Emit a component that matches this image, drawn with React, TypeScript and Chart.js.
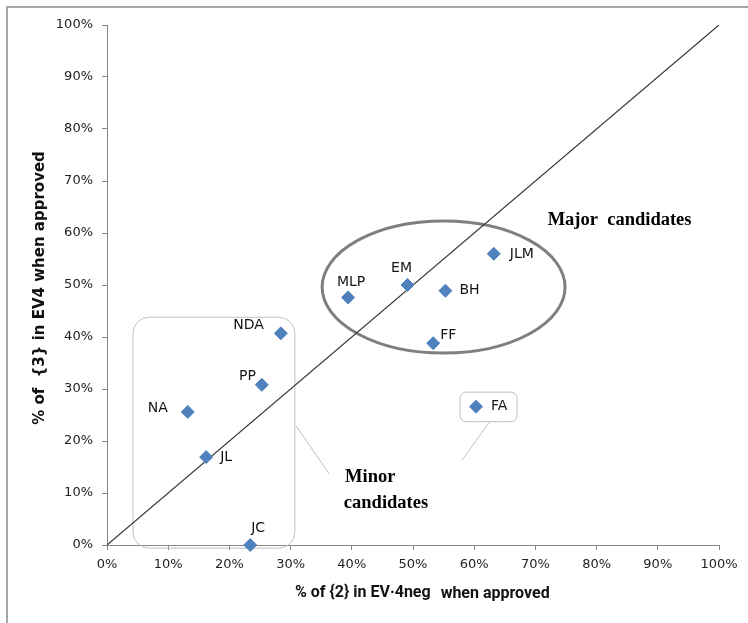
import React, { useEffect, useRef } from 'react';
import { Chart, registerables } from 'chart.js';

Chart.register(...registerables);

// ---- data ----
const candidates = ['JLM', 'EM', 'MLP', 'BH', 'FF', 'NDA', 'PP', 'NA', 'JL', 'JC', 'FA'];
const pctEv4neg = [63.2, 49.1, 39.4, 55.3, 53.3, 28.4, 25.3, 13.2, 16.2, 23.4, 60.3];
const pctEv4 = [56.0, 50.0, 47.6, 48.9, 38.8, 40.7, 30.8, 25.6, 16.9, 0.0, 26.6];
const diagonalX = [0, 100];
const diagonalY = [0, 100];
const tickValues = [0, 10, 20, 30, 40, 50, 60, 70, 80, 90, 100];
const tickLabels = ['0%', '10%', '20%', '30%', '40%', '50%', '60%', '70%', '80%', '90%', '100%'];

const xTitleA = '% of {2} in EV\u00B74neg';
const xTitleB = 'when approved';
const yTitle = '% of  {3} in EV4 when approved';
const majorText = ['Major  candidates'];
const minorText = ['Minor', 'candidates'];

// ---- label placement (pixel offsets from the point) ----
const labelOffsets: Record<string, [number, number, CanvasTextAlign]> = {
  JLM: [16, 1, 'left'],
  EM: [-6, -17, 'center'],
  MLP: [3, -15, 'center'],
  BH: [14, 0, 'left'],
  FF: [7, -8, 'left'],
  NDA: [-17, -8, 'right'],
  PP: [-6, -8, 'right'],
  NA: [-20, -4, 'right'],
  JL: [14, 0, 'left'],
  JC: [1, -17, 'left'],
  FA: [15, 0, 'left'],
};

function roundRect(ctx: CanvasRenderingContext2D, x0: number, y0: number, x1: number, y1: number, r: number) {
  const l = Math.min(x0, x1), rr = Math.max(x0, x1), t = Math.min(y0, y1), b = Math.max(y0, y1);
  ctx.beginPath();
  ctx.moveTo(l + r, t);
  ctx.lineTo(rr - r, t);
  ctx.arcTo(rr, t, rr, t + r, r);
  ctx.lineTo(rr, b - r);
  ctx.arcTo(rr, b, rr - r, b, r);
  ctx.lineTo(l + r, b);
  ctx.arcTo(l, b, l, b - r, r);
  ctx.lineTo(l, t + r);
  ctx.arcTo(l, t, l + r, t, r);
  ctx.closePath();
}

const annotationPlugin = {
  id: 'annotations',
  beforeDatasetsDraw(chart: any) {
    const { ctx, scales } = chart;
    const xs = scales.x, ys = scales.y;
    const px = (v: number) => xs.getPixelForValue(v);
    const py = (v: number) => ys.getPixelForValue(v);
    ctx.save();
    // Major ellipse
    const cx = 55, cy = 49.6, rx = 19.85, ry = 12.7;
    ctx.beginPath();
    ctx.ellipse(px(cx), py(cy), px(cx + rx) - px(cx), py(cy) - py(cy + ry), 0, 0, Math.PI * 2);
    ctx.strokeStyle = '#7F7F7F';
    ctx.lineWidth = 3;
    ctx.stroke();
    // Minor rounded box
    ctx.strokeStyle = '#BFBFBF';
    ctx.lineWidth = 1;
    roundRect(ctx, px(4.25), py(43.8), px(30.7), py(-0.6), 16);
    ctx.stroke();
    ctx.beginPath();
    ctx.moveTo(px(30.9), py(22.9));
    ctx.lineTo(px(36.3), py(13.7));
    ctx.stroke();
    // FA box
    roundRect(ctx, px(57.7), py(29.4), px(67), py(23.7), 6);
    ctx.stroke();
    ctx.beginPath();
    ctx.moveTo(px(62.4), py(23.5));
    ctx.lineTo(px(58), py(16.3));
    ctx.stroke();
    ctx.restore();
  },
  afterDraw(chart: any) {
    const { ctx, scales, chartArea } = chart;
    const xs = scales.x, ys = scales.y;
    const px = (v: number) => xs.getPixelForValue(v);
    const py = (v: number) => ys.getPixelForValue(v);
    ctx.save();
    // outer frame (left and top visible)
    ctx.strokeStyle = '#A6A6A6';
    ctx.lineWidth = 2;
    ctx.beginPath();
    ctx.moveTo(7, chart.height + 5);
    ctx.lineTo(7, 7);
    ctx.lineTo(chart.width + 5, 7);
    ctx.stroke();

    // point labels
    const meta = chart.getDatasetMeta(1);
    ctx.fillStyle = '#141414';
    ctx.font = '14px "DejaVu Sans"';
    ctx.textBaseline = 'middle';
    meta.data.forEach((pt: any, i: number) => {
      const name = candidates[i];
      const [dx, dy, align] = labelOffsets[name];
      ctx.textAlign = align;
      ctx.fillText(name, pt.x + dx, pt.y + dy);
    });

    // group captions
    ctx.fillStyle = '#000000';
    ctx.font = 'bold 18.5px "Liberation Serif"';
    ctx.textAlign = 'left';
    ctx.textBaseline = 'alphabetic';
    ctx.fillText(majorText[0], px(72), py(61.5));
    ctx.fillText(minorText[0], px(38.9), py(12.1));
    ctx.fillText(minorText[1], px(38.7), py(7.1));

    // x axis title
    ctx.fillStyle = '#111111';
    ctx.font = 'bold 16px Roboto';
    ctx.textBaseline = 'middle';
    ctx.textAlign = 'left';
    const titleY = chartArea.bottom + 48;
    const xa = 295;
    ctx.fillText(xTitleA, xa, titleY);
    const wa = ctx.measureText(xTitleA).width;
    ctx.fillText(xTitleB, xa + wa + 10, titleY + 1);

    // y axis title
    ctx.translate(40, (chartArea.top + chartArea.bottom) / 2 + 3);
    ctx.rotate(-Math.PI / 2);
    ctx.font = 'bold 15px "DejaVu Sans"';
    ctx.textAlign = 'center';
    ctx.fillText(yTitle, 0, 0);
    ctx.restore();
  },
};

export default function App() {
  const ref = useRef<HTMLCanvasElement | null>(null);
  useEffect(() => {
    if (!ref.current) return;
    const tickFont = { family: '"DejaVu Sans"', size: 13 };
    const chart = new Chart(ref.current, {
      type: 'scatter',
      data: {
        datasets: [
          {
            type: 'line',
            label: 'diagonal',
            data: diagonalX.map((x, i) => ({ x, y: diagonalY[i] })),
            borderColor: '#333333',
            borderWidth: 1.2,
            pointRadius: 0,
            fill: false,
            order: 2,
          } as any,
          {
            label: 'candidates',
            data: pctEv4neg.map((x, i) => ({ x, y: pctEv4[i] })),
            pointStyle: 'rectRot',
            pointRadius: 6.5,
            pointHoverRadius: 6.5,
            backgroundColor: '#4F81BD',
            borderColor: '#4F81BD',
            borderWidth: 1,
            clip: false,
            order: 1,
          } as any,
        ],
      },
      options: {
        responsive: false,
        animation: false,
        devicePixelRatio: 1,
        layout: { padding: { left: 0, top: 25, right: 29, bottom: 0 } },
        plugins: { legend: { display: false }, tooltip: { enabled: false }, title: { display: false } },
        events: [],
        scales: {
          x: {
            type: 'linear',
            min: 0,
            max: 100,
            afterFit: (s: any) => { s.height = 78; },
            afterBuildTicks: (s: any) => { s.ticks = tickValues.map((v) => ({ value: v })); },
            ticks: {
              callback: (v: any) => tickLabels[tickValues.indexOf(Number(v))] ?? '',
              font: tickFont,
              color: '#222222',
              padding: 7,
              maxRotation: 0,
            },
            grid: { drawOnChartArea: false, drawTicks: true, tickLength: 5, color: '#868686' },
            border: { color: '#868686', width: 1 },
          },
          y: {
            type: 'linear',
            min: 0,
            max: 100,
            afterFit: (s: any) => { s.width = 107; },
            afterBuildTicks: (s: any) => { s.ticks = tickValues.map((v) => ({ value: v })); },
            ticks: {
              callback: (v: any) => tickLabels[tickValues.indexOf(Number(v))] ?? '',
              font: tickFont,
              color: '#222222',
              padding: 9,
            },
            grid: { drawOnChartArea: false, drawTicks: true, tickLength: 5, color: '#868686' },
            border: { color: '#868686', width: 1 },
          },
        },
      },
      plugins: [annotationPlugin],
    });
    return () => chart.destroy();
  }, []);
  return (
    <div style={{ position: 'absolute', left: 0, top: 0, width: 748, height: 623, background: '#ffffff' }}>
      <canvas ref={ref} width={748} height={623} style={{ display: 'block' }} />
    </div>
  );
}
